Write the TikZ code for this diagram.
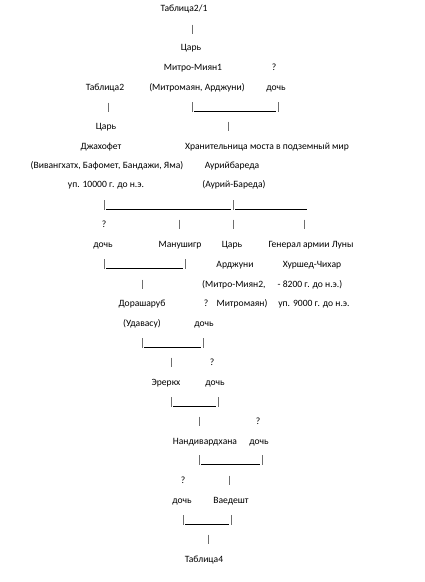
\documentclass[tikz,border=0pt]{standalone}
\usepackage{fontspec}
\setmainfont{Carlito}
\usepackage{tikz}
\usetikzlibrary{positioning}
\definecolor{barGrey}{RGB}{110,110,110}

\begin{document}
\begin{tikzpicture}[x=1pt, y=-1pt,
    lbl/.style={inner sep=0pt, font=\fontsize{9.6}{11}\selectfont, text height=1.6ex, text depth=0.25ex},
    bar/.style={barGrey, line width=0.6pt},
    rule/.style={black, line width=0.7pt}]
  \useasboundingbox[fill=white] (0,0) rectangle (424,582);
  % Top: Mitro-Miyan 1
  \node[lbl] (tab21) at (184,8) {Таблица2/1};
  \node[lbl] (tsar1) at (191,47) {Царь};
  \node[lbl] (mitro1) at (193,67) {Митро-Миян1};
  \node[lbl] (q1) at (274,67) {?};
  \node[lbl] (tab2) at (105,87) {Таблица2};
  \node[lbl] (mitro1alt) at (197,87) {(Митромаян, Арджуни)};
  \node[lbl] (dau1) at (276,87) {дочь};
  % Second generation
  \node[lbl] (tsar2) at (106,126) {Царь};
  \node[lbl] (jahofet) at (101,146) {Джахофет};
  \node[lbl] (keeper) at (267,146) {Хранительница моста в подземный мир};
  \node[lbl] (jahalt) at (107,165) {(Вивангхатх, Бафомет, Бандажи, Яма)};
  \node[lbl] (aurii) at (232,165) {Аурийбареда};
  \node[lbl] (jahdate) at (106,184) {уп. 10000 г. до н.э.};
  \node[lbl] (auriialt) at (234,184) {(Аурий-Бареда)};
  % Children of Jahofet
  \node[lbl] (q2) at (104,224) {?};
  \node[lbl] (dau2) at (103,244) {дочь};
  \node[lbl] (manush) at (180,244) {Манушигр};
  \node[lbl] (tsar3) at (232,244) {Царь};
  \node[lbl] (general) at (311,244) {Генерал армии Луны};
  \node[lbl] (arjuni) at (235,264) {Арджуни};
  \node[lbl] (khurshed) at (312,264) {Хуршед-Чихар};
  \node[lbl, anchor=west] (arjalt) at (202,284) {(Митро-Миян2,};
  \node[lbl] (khdate1) at (310,284) {- 8200 г. до н.э.)};
  \node[lbl] (dorash) at (142,303) {Дорашаруб};
  \node[lbl] (q3) at (206,303) {?};
  \node[lbl] (arjalt2) at (242,303) {Митромаян)};
  \node[lbl] (khdate2) at (314,303) {уп. 9000 г. до н.э.};
  \node[lbl] (udavasu) at (142,323) {(Удавасу)};
  \node[lbl] (dau3) at (204,323) {дочь};
  % Lower line
  \node[lbl] (q4) at (212,362) {?};
  \node[lbl] (ererkh) at (166,382) {Эреркх};
  \node[lbl] (dau4) at (215,382) {дочь};
  \node[lbl] (q5) at (258,421) {?};
  \node[lbl] (nandi) at (205,441) {Нандивардхана};
  \node[lbl] (dau5) at (259,441) {дочь};
  \node[lbl] (q6) at (183,480) {?};
  \node[lbl] (dau6) at (182,500) {дочь};
  \node[lbl] (vaed) at (231,500) {Ваедешт};
  \node[lbl] (tab4) at (204,559) {Таблица4};
  % Single bars
  \foreach \x/\y in {192/29, 108/107, 228/126, 179/224, 233/224, 304/224,
                     142/284, 171/362, 199/421, 229/480, 208/539}{
    \draw[bar] (\x,\y-4.5) -- (\x,\y+4.5);
  }
  % Brackets |____|
  \foreach \l/\r/\y in {192/278/111, 104/233/209, 104/185/268, 142/203/347,
                        171/218/406, 199/262/464, 183/231/524}{
    \draw[bar] (\l,\y-9) -- (\l,\y+0.5);
    \draw[bar] (\r,\y-9) -- (\r,\y+0.5);
    \draw[rule] (\l+2,\y) -- (\r-2,\y);
  }
  \draw[rule] (235,209) -- (307,209);
\end{tikzpicture}
\end{document}
